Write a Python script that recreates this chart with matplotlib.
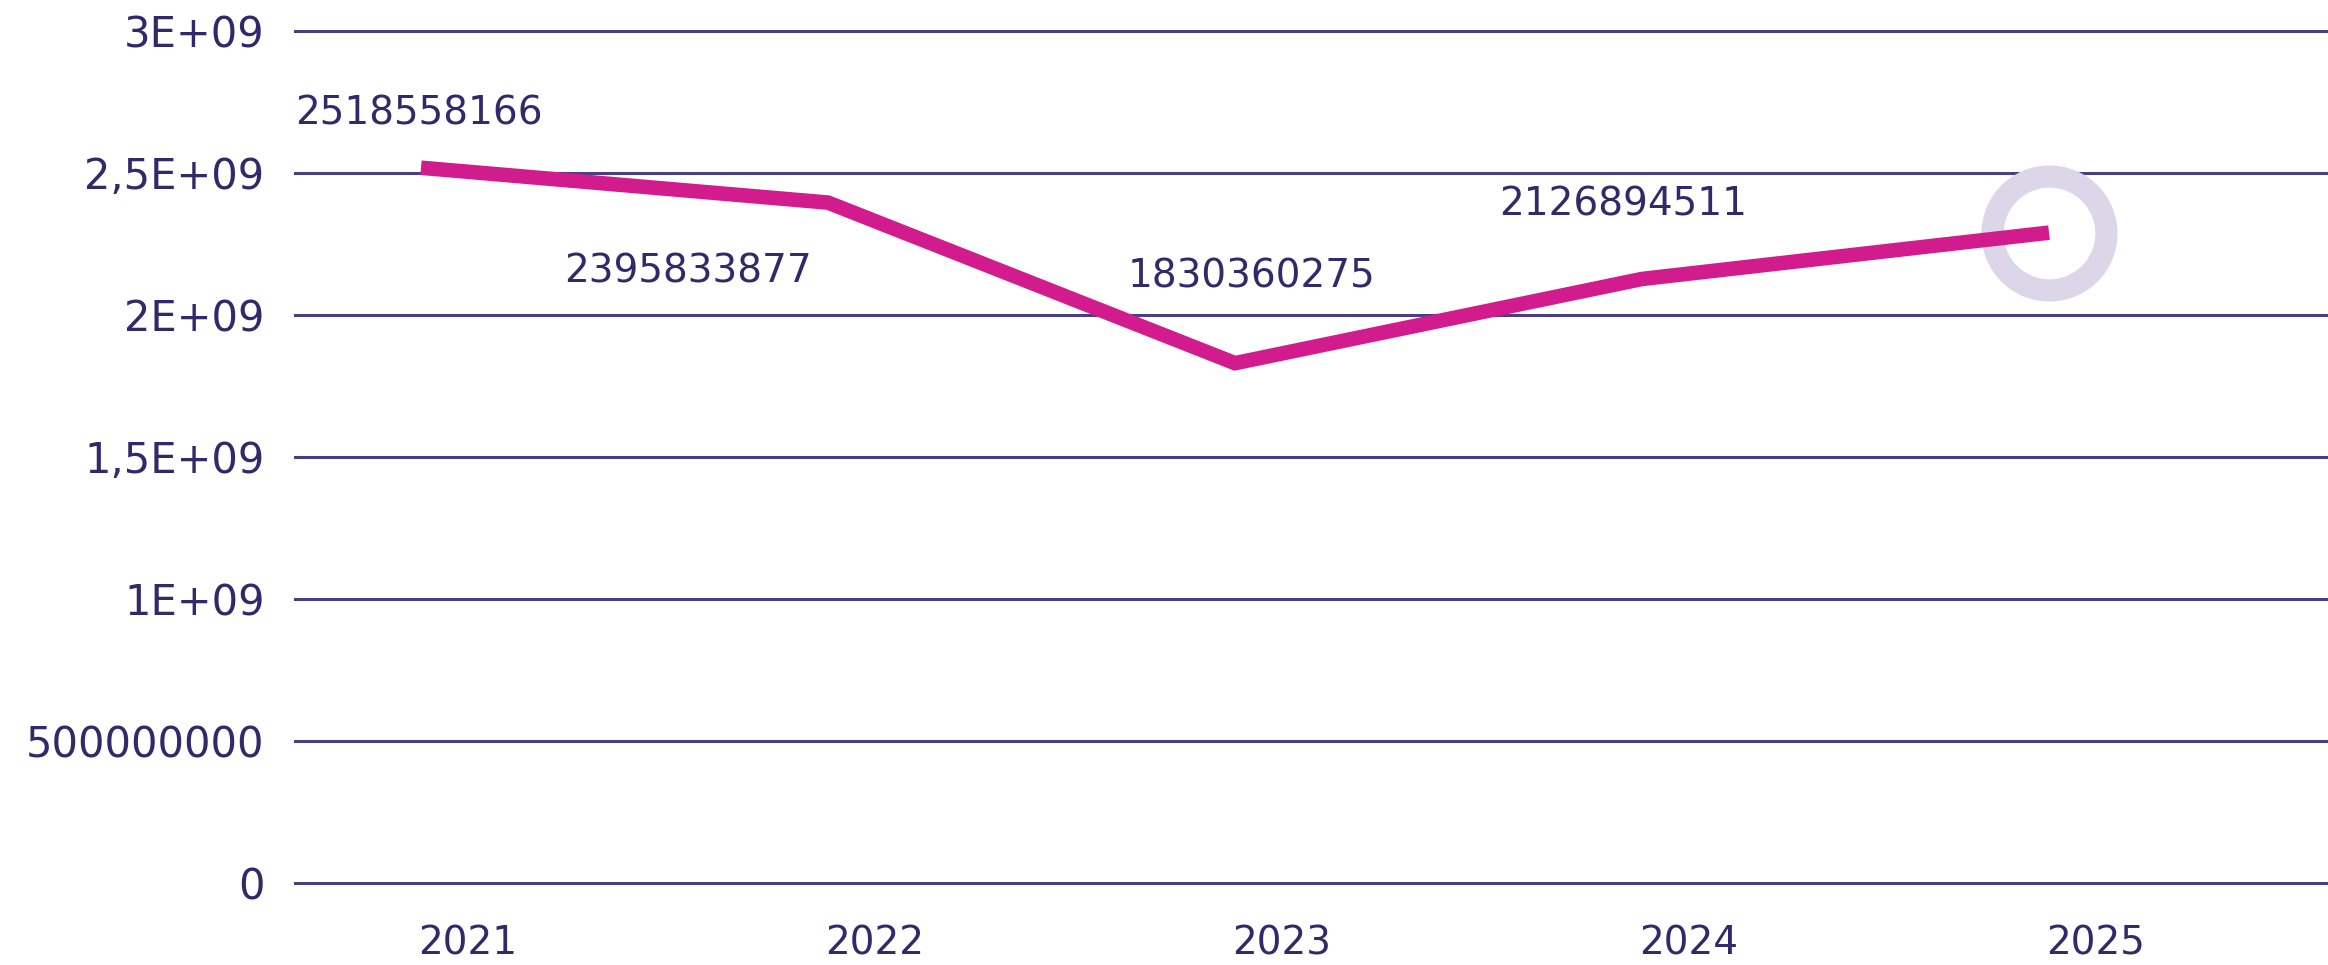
import matplotlib
matplotlib.use("Agg")
import matplotlib.pyplot as plt
from matplotlib.transforms import ScaledTranslation
from matplotlib.ticker import FixedLocator, FixedFormatter

# ---- data ----
years = ["2021", "2022", "2023", "2024", "2025"]
values = [2518558166, 2395833877, 1830360275, 2126894511, 2290000000]
label_texts = ["2518558166", "2395833877", "1830360275", "2126894511"]
y_ticks = [0, 500000000, 1000000000, 1500000000, 2000000000, 2500000000, 3000000000]
y_tick_labels = ["0", "500000000", "1E+09", "1,5E+09", "2E+09", "2,5E+09", "3E+09"]

# ---- style ----
TEXT = "#33286a"
GRID = "#4a3f80"
LINE = "#d21b8d"
RING = "#dcd6e8"

plt.rcParams['font.family'] = ['DejaVu Sans']

fig = plt.figure(figsize=(23.28, 9.65), dpi=100)
ax = fig.add_axes([295 / 2328, 82 / 965, 1 - 295 / 2328, (883 - 31) / 965])

x = list(range(len(years)))
ax.set_xlim(-0.425, 4.57)
ax.set_ylim(0, 3e9)

for s in ax.spines.values():
    s.set_visible(False)

ax.yaxis.set_major_locator(FixedLocator(y_ticks))
ax.yaxis.set_major_formatter(FixedFormatter(y_tick_labels))
ax.set_xticks(x)
ax.set_xticklabels(years)
ax.tick_params(axis='y', length=0, pad=22, labelsize=30, labelcolor=TEXT)
ax.tick_params(axis='x', length=0, pad=30, labelsize=28, labelcolor=TEXT)
ax.grid(axis='y', color=GRID, linewidth=2.2)
ax.grid(axis='x', visible=False)
ax.set_axisbelow(True)
for gl in ax.get_ygridlines():
    gl.set_clip_on(False)

shift = ax.transData + ScaledTranslation(-0.47, 0, fig.dpi_scale_trans)

# ring marker at last point
ax.plot([x[-1]], [values[-1]], marker='o', markersize=82, markerfacecolor='none',
        markeredgecolor=RING, markeredgewidth=16, linestyle='none',
        transform=shift, zorder=3)
# main line
ax.plot(x, values, color=LINE, linewidth=10.5, solid_capstyle='butt',
        solid_joinstyle='miter', transform=shift, zorder=4)

offsets = [(-49, 54), (-187, -69), (-30, 87), (-66, 74)]
for i, (txt, off) in enumerate(zip(label_texts, offsets)):
    ax.annotate(txt, xy=(x[i], values[i]), xytext=off, textcoords='offset pixels',
                ha='center', va='center', fontsize=28, color=TEXT, zorder=5)

fig.savefig("out.png", dpi=100, facecolor='white')
